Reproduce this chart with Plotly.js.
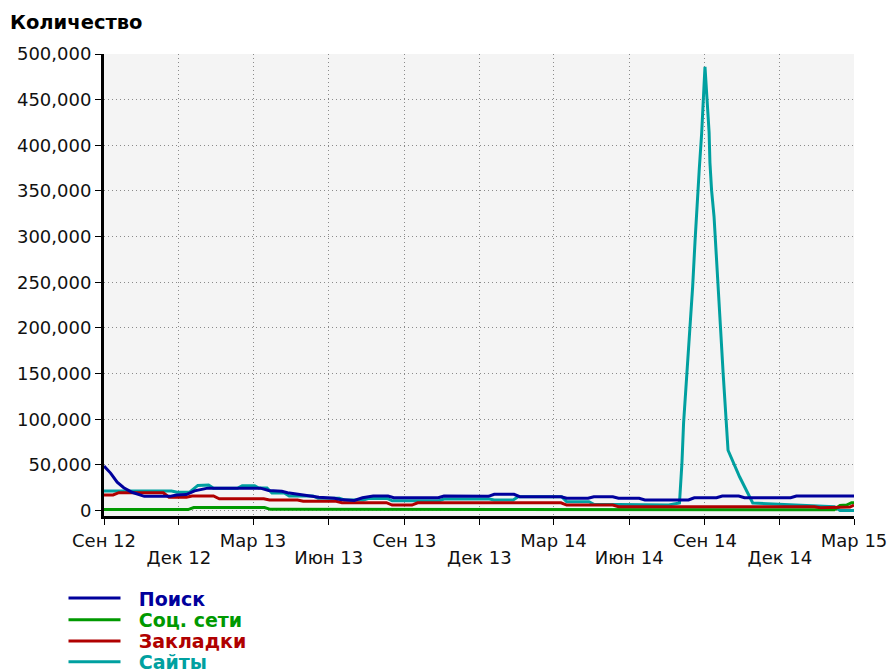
<!DOCTYPE html>
<html>
<head>
<meta charset="utf-8">
<script src="https://cdn.plot.ly/plotly-3.0.1.min.js"></script>
<style>
  html, body { margin: 0; padding: 0; background: #ffffff; }
  #chart { width: 892px; height: 671px; }
</style>
</head>
<body>
<div id="chart"></div>
<script>
// ---- Data ----
const tickDates = ['2012-09-01','2012-12-01','2013-03-01','2013-06-01','2013-09-01','2013-12-01','2014-03-01','2014-06-01','2014-09-01','2014-12-01','2015-03-01'];
const tickLabels = ['Сен 12','Дек 12','Мар 13','Июн 13','Сен 13','Дек 13','Мар 14','Июн 14','Сен 14','Дек 14','Мар 15'];

const seriesNames = ['Поиск','Соц. сети','Закладки','Сайты'];
const seriesColors = ['#00009c','#009900','#b00000','#00a0a0'];

const poiskDates = ['2012-09-01','2012-09-09','2012-09-17','2012-09-25','2012-10-05','2012-10-20','2012-11-20','2012-11-28','2012-12-10','2012-12-20','2013-01-05','2013-03-10','2013-03-20','2013-04-05','2013-04-12','2013-04-25','2013-05-10','2013-05-20','2013-06-08','2013-06-15','2013-07-02','2013-07-12','2013-07-25','2013-08-12','2013-08-19','2013-10-12','2013-10-19','2013-12-12','2013-12-19','2014-01-12','2014-01-19','2014-03-10','2014-03-17','2014-04-12','2014-04-19','2014-05-12','2014-05-19','2014-06-13','2014-06-20','2014-08-12','2014-08-19','2014-09-15','2014-09-22','2014-10-12','2014-10-19','2014-12-14','2014-12-21','2015-03-01'];
const poiskValues = [48800,41000,31000,25000,20000,15500,15500,17000,17500,21500,24500,24500,22000,21000,19500,17500,15500,14500,13500,12000,11000,14000,15900,15900,14000,14000,15900,15500,17800,17800,15100,15100,13400,13400,15100,15100,13400,13400,11500,11500,14000,14000,15900,15900,14000,14000,15900,15900];

const socDates = ['2012-09-01','2012-12-12','2012-12-19','2013-03-15','2013-03-22','2014-01-01','2014-06-01','2015-02-05','2015-02-12','2015-02-20','2015-02-26','2015-03-01'];
const socValues = [1000,1000,3200,3200,1300,1300,800,800,5500,6000,8500,8500];

const zakladkiDates = ['2012-09-01','2012-09-12','2012-09-19','2012-11-12','2012-11-19','2012-12-10','2012-12-17','2013-01-12','2013-01-19','2013-03-14','2013-03-21','2013-04-24','2013-05-01','2013-06-10','2013-06-17','2013-08-10','2013-08-17','2013-09-10','2013-09-17','2014-03-10','2014-03-17','2014-05-12','2014-05-19','2015-01-12','2015-01-19','2015-02-08','2015-02-15','2015-02-24','2015-03-01'];
const zakladkiValues = [17000,17000,19500,19500,14500,14500,15900,15900,12900,12900,11500,11500,10100,10100,8600,8600,6000,6000,8500,8500,6000,6000,4200,4200,3100,3100,3800,3800,6000];

const saityDates = ['2012-09-01','2012-11-22','2012-11-29','2012-12-14','2012-12-24','2013-01-06','2013-01-12','2013-02-10','2013-02-16','2013-03-03','2013-03-08','2013-03-18','2013-03-24','2013-04-08','2013-04-14','2013-05-13','2013-05-19','2013-06-14','2013-06-20','2013-07-13','2013-07-19','2013-08-11','2013-08-17','2013-10-13','2013-10-19','2013-12-13','2013-12-19','2014-01-11','2014-01-17','2014-03-11','2014-03-17','2014-04-13','2014-04-19','2014-07-13','2014-07-19','2014-08-01','2014-08-04','2014-08-06','2014-08-10','2014-08-14','2014-08-17','2014-08-20','2014-08-23','2014-08-25','2014-08-28','2014-08-30','2014-08-31','2014-09-01','2014-09-04','2014-09-06','2014-09-07','2014-09-09','2014-09-12','2014-09-14','2014-09-17','2014-09-20','2014-09-23','2014-09-26','2014-09-29','2014-10-13','2014-10-29','2015-02-05','2015-02-12','2015-03-01'];
const saityValues = [21400,21400,20000,20000,27500,28000,24300,24300,27200,27200,24700,24700,19200,19200,15900,15900,13400,13400,11500,11500,13200,13200,10700,10700,12600,12600,11500,11500,15100,15100,9600,9600,6800,6800,6000,8200,52000,95900,150700,197800,245000,296500,348000,373200,413700,442200,468500,486000,442000,414000,381000,351000,322000,289000,234000,198000,151000,113000,66000,37000,8200,4200,0,0];

// ---- Traces ----
const fontFamily = '"DejaVu Sans", "Liberation Sans", Arial, sans-serif';
const xs = [poiskDates, socDates, zakladkiDates, saityDates];
const ys = [poiskValues, socValues, zakladkiValues, saityValues];
const legendIds = ['legend', 'legend2', 'legend3', 'legend4'];
// draw order: Сайты underneath, Поиск on top
const drawOrder = [3, 1, 2, 0];
const traces = drawOrder.map(i => ({
  type: 'scatter',
  mode: 'lines',
  x: xs[i],
  y: ys[i],
  name: '<b><span style="color:' + seriesColors[i] + '">&nbsp;&nbsp;' + seriesNames[i] + '</span></b>',
  line: { color: seriesColors[i], width: 3 },
  legend: legendIds[i],
  hoverinfo: 'skip'
}));
// invisible helper trace so the second-row tick axis is drawn
traces.push({
  type: 'scatter', mode: 'lines', x: [tickDates[0], tickDates[tickDates.length - 1]], y: [null, null],
  xaxis: 'x2', yaxis: 'y', showlegend: false, hoverinfo: 'skip'
});

const upperVals = tickDates.filter((d, i) => i % 2 === 0);
const upperText = tickLabels.filter((d, i) => i % 2 === 0);
const lowerVals = tickDates.filter((d, i) => i % 2 === 1);
const lowerText = tickLabels.filter((d, i) => i % 2 === 1);

const gridDash = '1px,3px';
const legendRowsY = [-0.178, -0.225, -0.271, -0.316];
function makeLegend(k) {
  return {
    orientation: 'v',
    x: -0.054, xanchor: 'left',
    y: legendRowsY[k], yanchor: 'middle',
    bgcolor: 'rgba(0,0,0,0)',
    borderwidth: 0,
    font: { family: fontFamily, size: 19, color: '#000000' },
    itemwidth: 52
  };
}

const layout = {
  width: 892,
  height: 671,
  margin: { l: 104, r: 38, t: 54, b: 155, pad: 0, autoexpand: false },
  paper_bgcolor: '#ffffff',
  plot_bgcolor: '#f4f4f4',
  font: { family: fontFamily, size: 18, color: '#111111' },
  title: {
    text: '<b>Количество</b>',
    font: { family: fontFamily, size: 19.5, color: '#000000' },
    xref: 'container', yref: 'container',
    x: 10 / 892, xanchor: 'left',
    y: 1 - 22 / 671, yanchor: 'middle'
  },
  showlegend: true,
  legend: makeLegend(0),
  legend2: makeLegend(1),
  legend3: makeLegend(2),
  legend4: makeLegend(3),
  xaxis: {
    type: 'date',
    range: [tickDates[0], tickDates[tickDates.length - 1]],
    tickmode: 'array',
    tickvals: upperVals.concat(lowerVals),
    ticktext: upperText.concat(lowerText.map(() => '')),
    tickangle: 0,
    ticks: 'outside', ticklen: 6, tickwidth: 1, tickcolor: '#000000',
    showline: true, linewidth: 3, linecolor: '#000000',
    showgrid: true, gridcolor: '#8a8a8a', gridwidth: 1, griddash: gridDash,
    zeroline: false,
    tickfont: { family: fontFamily, size: 18, color: '#111111' },
    fixedrange: true
  },
  xaxis2: {
    type: 'date',
    overlaying: 'x', anchor: 'y', side: 'bottom',
    range: [tickDates[0], tickDates[tickDates.length - 1]],
    tickmode: 'array',
    tickvals: lowerVals,
    ticktext: lowerText,
    tickangle: 0,
    ticks: 'outside', ticklen: 6, tickwidth: 1, tickcolor: 'rgba(0,0,0,0)',
    showline: true, linewidth: 3, linecolor: 'rgba(0,0,0,0)',
    showgrid: false, zeroline: false,
    ticklabelstandoff: 17,
    tickfont: { family: fontFamily, size: 18, color: '#111111' },
    fixedrange: true
  },
  yaxis: {
    range: [-6000, 500000],
    tickmode: 'linear', tick0: 0, dtick: 50000,
    tickformat: ',d',
    ticks: 'outside', ticklen: 6, tickwidth: 1, tickcolor: '#000000',
    showline: true, linewidth: 3, linecolor: '#000000',
    showgrid: true, gridcolor: '#8a8a8a', gridwidth: 1, griddash: gridDash,
    zeroline: false,
    tickfont: { family: fontFamily, size: 18, color: '#111111' },
    fixedrange: true
  }
};

Plotly.newPlot('chart', traces, layout, { staticPlot: true, displayModeBar: false });
</script>
</body>
</html>
